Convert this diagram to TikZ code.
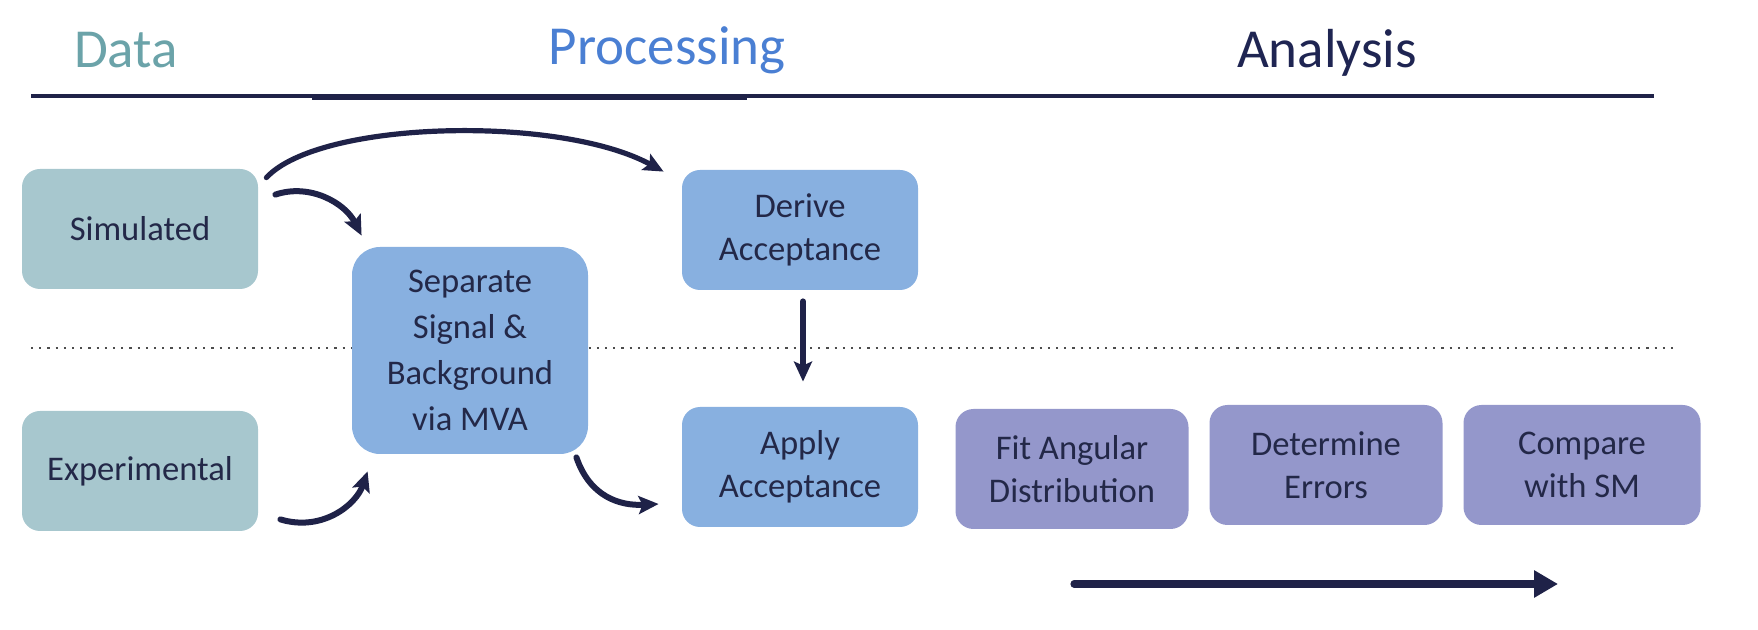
\documentclass[tikz,border=0pt]{standalone}
\usepackage{fontspec}
\setmainfont{Carlito}
\usetikzlibrary{arrows.meta,calc}
\definecolor{simfill}{HTML}{A7C7CE}
\definecolor{procfill}{HTML}{88B0E0}
\definecolor{anafill}{HTML}{9497CB}
\definecolor{boxtext}{HTML}{232848}
\definecolor{hdata}{HTML}{6BA3A9}
\definecolor{hproc}{HTML}{4A7FD3}
\definecolor{hana}{HTML}{1F2552}
\definecolor{linecol}{HTML}{1F2248}
\tikzset{
  boxbase/.style={rounded corners=9pt, inner sep=0pt, align=center, text=boxtext,
    font=\fontsize{17.3}{21.5}\selectfont, minimum width=118pt, minimum height=60pt},
  simbox/.style={boxbase, fill=simfill},
  procbox/.style={boxbase, fill=procfill},
  anabox/.style={boxbase, fill=anafill, minimum width=116.5pt},
  heading/.style={font=\fontsize{27.5}{32}\selectfont},
  flow/.style={draw=linecol, line width=3pt, line cap=round, -{Stealth[length=10pt,width=9pt,inset=2pt]}},
}
\begin{document}
\begin{tikzpicture}[x=0.5pt,y=-0.5pt]
\useasboundingbox (0,0) rectangle (1758,630);
% headings
\node[heading, text=hdata] (hd) at (126,50) {Data};
\node[heading, text=hproc] (hp) at (667,50) {Processing};
\node[heading, text=hana] (ha) at (1327,53) {Analysis};
% header rule
\coordinate (rl) at (31,96);
\coordinate (rr) at (1654,96);
\coordinate (tl) at (312,97);
\coordinate (tr) at (747,97);
\draw[linecol, line width=1.6pt] (rl) -- (rr);
\draw[linecol, line width=2.8pt] (tl) -- (tr);
% dotted separator
\coordinate (dl) at (31,348);
\coordinate (dr) at (1678,348);
\draw[gray!60!black, line width=1.2pt, dash pattern=on 1.1pt off 3pt] (dl) -- (dr);
% boxes
\node[simbox] (sim) at (140,229) {Simulated};
\node[simbox] (exp) at (140,471) {Experimental};
\node[procbox, minimum height=103.5pt, rounded corners=14pt] (sep) at (470,350.5) {Separate\\[1.5pt]Signal \&\\[1.5pt]Background\\[1.5pt]via MVA};
\node[procbox] (der) at (800,230) {Derive\\Acceptance};
\node[procbox] (app) at (800,467) {Apply\\Acceptance};
\node[anabox] (fit) at (1072,469) {Fit Angular\\Distribution};
\node[anabox] (det) at (1326,465) {Determine\\Errors};
\node[anabox, minimum width=118.5pt] (cmp) at (1582,465) {Compare\\with SM};
% connectors
\draw[flow, line width=2.6pt] ($(sim.north east)+(8,9)$) .. controls (320,120) and (560,115) .. ($(der.north west)+(-18,2)$);
\draw[flow] ($(sim.north east)+(17,26)$) .. controls (310,183) and (345,203) .. ($(sep.north west)+(10,-11)$);
\draw[flow] ($(exp.south east)+(22,-12)$) .. controls (322,532) and (356,505) .. ($(sep.south west)+(16,17)$);
\draw[flow] ($(sep.south east)+(-12,3)$) .. controls (590,497) and (620,506) .. ($(app.west)+(-23,37)$);
\draw[flow] ($(der.south)+(3,11)$) -- ($(app.north)+(3,-25)$);
% analysis direction arrow
\coordinate (al) at (1074,584);
\coordinate (ar) at (1558,584);
\draw[draw=linecol, line width=3.6pt, line cap=round, -{Triangle[length=12pt,width=13pt]}] (al) -- (ar);
\end{tikzpicture}
\end{document}
